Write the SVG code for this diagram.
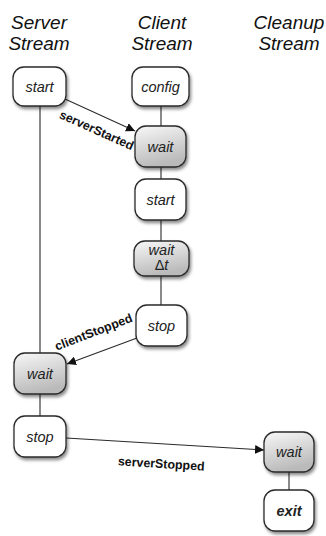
<svg xmlns="http://www.w3.org/2000/svg" width="326" height="536" viewBox="0 0 326 536">
  <style>
    .hdr { font-family: "Liberation Sans", Arial, sans-serif; font-style: italic; font-size: 19px; fill: #111; text-anchor: middle; }
    .box { stroke: #2a2a2a; stroke-width: 1.3; filter: url(#shadow); }
    .plain { fill: #ffffff; }
    .shade { fill: url(#grey); }
    .lbl { font-family: "Liberation Sans", Arial, sans-serif; font-style: italic; font-size: 14.5px; fill: #222; text-anchor: middle; }
    .bold { font-weight: bold; }
    .edge { stroke: #2a2a2a; stroke-width: 1.1; fill: none; }
    .msg { font-family: "Liberation Sans", Arial, sans-serif; font-weight: bold; font-size: 12.4px; fill: #111; text-anchor: middle; }
  </style>
  <defs>
    <linearGradient id="grey" x1="0" y1="0" x2="0.3" y2="1">
      <stop offset="0" stop-color="#f8f8f8"/>
      <stop offset="1" stop-color="#bababa"/>
    </linearGradient>
    <filter id="shadow" x="-30%" y="-30%" width="160%" height="170%">
      <feDropShadow dx="1.5" dy="2.5" stdDeviation="1.6" flood-color="#000" flood-opacity="0.45"/>
    </filter>
    <marker id="arrow" viewBox="0 0 10 10" refX="10" refY="5" markerWidth="9" markerHeight="9" markerUnits="userSpaceOnUse" orient="auto">
      <path d="M0,0 L10,5 L0,10 z" fill="#111"/>
    </marker>
  </defs>

  <!-- column headings -->
  <text class="hdr" x="39" y="29">Server</text>
  <text class="hdr" x="39" y="50">Stream</text>
  <text class="hdr" x="162" y="29">Client</text>
  <text class="hdr" x="162" y="50">Stream</text>
  <text class="hdr" x="289" y="29">Cleanup</text>
  <text class="hdr" x="289" y="50">Stream</text>

  <!-- connectors -->
  <g id="connectors">
    <!-- stream timelines -->
    <line class="edge" x1="40" y1="106" x2="40" y2="353"/>
    <line class="edge" x1="40" y1="394" x2="40" y2="416"/>
    <line class="edge" x1="161" y1="106" x2="161" y2="126"/>
    <line class="edge" x1="161" y1="167" x2="161" y2="179"/>
    <line class="edge" x1="161" y1="220" x2="161" y2="241"/>
    <line class="edge" x1="161" y1="276" x2="161" y2="305"/>
    <line class="edge" x1="289" y1="472" x2="289" y2="490"/>
    <!-- messages -->
    <line class="edge" x1="65" y1="99" x2="135" y2="131" marker-end="url(#arrow)"/>
    <text class="msg" transform="translate(95,134) rotate(24)">serverStarted</text>
    <line class="edge" x1="137" y1="338" x2="67" y2="364" marker-end="url(#arrow)"/>
    <text class="msg" transform="translate(95,336) rotate(-21)">clientStopped</text>
    <line class="edge" x1="66" y1="438" x2="264" y2="450" marker-end="url(#arrow)"/>
    <text class="msg" transform="translate(161,468) rotate(3.5)">serverStopped</text>
  </g>

  <!-- server stream -->
  <g id="server-start">
    <rect class="box plain" x="13" y="67" width="53" height="39" rx="11"/>
    <text class="lbl" x="39.5" y="91.5">start</text>
  </g>
  <g id="server-wait">
    <rect class="box shade" x="14" y="353" width="52" height="41" rx="11"/>
    <text class="lbl" x="40" y="378.5">wait</text>
  </g>
  <g id="server-stop">
    <rect class="box plain" x="14" y="416" width="52" height="41" rx="11"/>
    <text class="lbl" x="40" y="441.5">stop</text>
  </g>

  <!-- client stream -->
  <g id="client-config">
    <rect class="box plain" x="132" y="67" width="57" height="39" rx="11"/>
    <text class="lbl" x="160.5" y="91.5">config</text>
  </g>
  <g id="client-wait">
    <rect class="box shade" x="135" y="126" width="51" height="41" rx="11"/>
    <text class="lbl" x="160.5" y="151.5">wait</text>
  </g>
  <g id="client-start">
    <rect class="box plain" x="135" y="179" width="51" height="41" rx="11"/>
    <text class="lbl" x="160.5" y="204.5">start</text>
  </g>
  <g id="client-wait-dt">
    <rect class="box shade" x="134" y="241" width="55" height="35" rx="11"/>
    <text class="lbl" x="161.5" y="255">wait</text>
    <text class="lbl" x="161.5" y="270"><tspan font-style="normal">Δ</tspan>t</text>
  </g>
  <g id="client-stop">
    <rect class="box plain" x="136" y="305" width="51" height="41" rx="11"/>
    <text class="lbl" x="161.5" y="330.5">stop</text>
  </g>

  <!-- cleanup stream -->
  <g id="cleanup-wait">
    <rect class="box shade" x="264" y="432" width="50" height="40" rx="11"/>
    <text class="lbl" x="289" y="457">wait</text>
  </g>
  <g id="cleanup-exit">
    <rect class="box plain" x="264" y="490" width="50" height="41" rx="11"/>
    <text class="lbl bold" x="289" y="515.5">exit</text>
  </g>
</svg>
